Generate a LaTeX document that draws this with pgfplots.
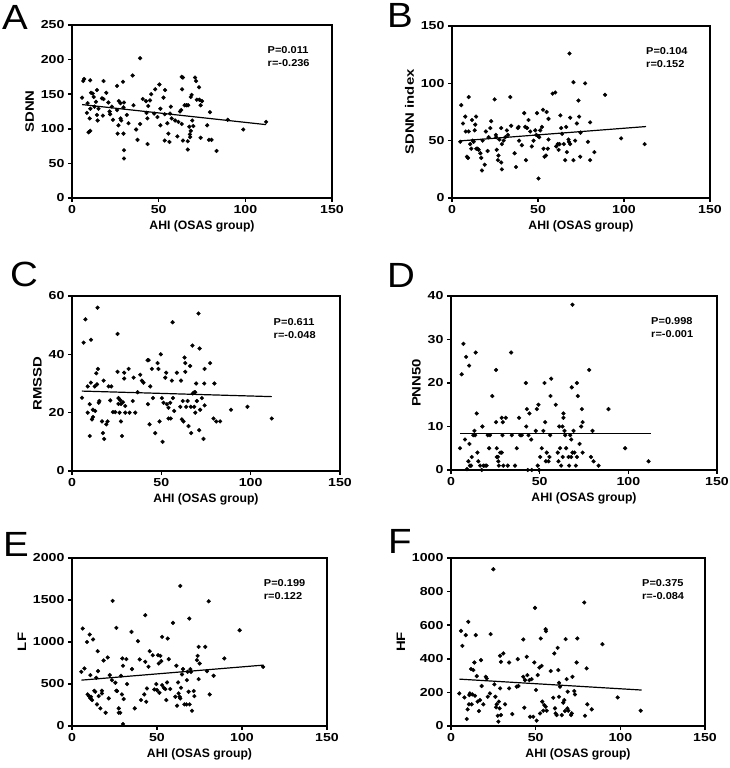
\documentclass[border=0pt]{standalone}
\usepackage{fontspec}
\setmainfont{Liberation Sans}
\newfontfamily\wide{Liberation Sans}[FakeStretch=1.1]
\newfontfamily\wider{Liberation Sans}[FakeStretch=1.22]
\usepackage{pgfplots}
\pgfplotsset{compat=1.18}
\pgfplotsset{
 panel/.style={
  scale only axis, anchor=south west,
  xmin=0, xmax=150, xtick={0,50,100,150},
  tick align=outside, tick pos=left,
  major tick length=4pt,
  axis line style={line width=1.6pt},
  tick style={line width=1.5pt, black},
  ticklabel style={font=\wider\bfseries\fontsize{11.6}{13}\selectfont},
  xlabel style={font=\bfseries\fontsize{12.2}{14}\selectfont},
  ylabel style={font=\wider\bfseries\fontsize{12.2}{14}\selectfont},
  xlabel={AHI (OSAS group)},
  /pgf/number format/assume math mode=true,
  /pgf/number format/1000 sep={},
  scaled ticks=false,
  clip=false,
 },
 dots/.style={only marks, mark=*, mark size=1.9pt, black},
 fitline/.style={no marks, line width=1.2pt, black},
}
\newcommand{\stat}[2]{\node[anchor=north west, align=left, inner sep=0pt, font=\wide\bfseries\fontsize{10}{13}\selectfont] at (rel axis cs:0.752,0.875) {#1\\#2};}
\begin{document}
\begin{tikzpicture}
\path[use as bounding box] (0pt,0pt) rectangle (729pt,768pt);
% ---------------- A
\begin{axis}[panel, at={(72pt,570pt)}, width=260pt, height=173pt,
  ymin=0, ymax=250, ytick={0,50,...,250}, ylabel={SDNN}]
\addplot[dots] table {
5.8 145
6.5 169
7 172
9 137
8.6 123
9.6 95
10.5 97
10.5 170
11 152
12 151
10.6 129
10.2 115
12.5 146
13 132
13.8 139
14.4 156
14.4 120
14.8 112
15.3 129
17.3 144
18.2 143
18.2 169
17.8 119
19.8 152
21 138
21.7 125
22 121
23 132
23.6 113
26 162
26 127
26.3 93
26.8 105
27 140
28 137
28 115
28.4 112
29.4 168
29.7 131
30 138
29.7 93
30 69
30 57
31.6 120
32.6 108
35 177
35.5 134
37 99
37.8 84
39.3 107
39.3 202
40.8 143
42.7 140
43 123
43.5 115
43.6 78
44 133
45 141
45.7 150
47.4 122
48 157
49.3 117
50.4 164
51 129
51 105
52.8 145
53.7 156
53.5 121
53.5 83
55 108
55.6 93
56.2 81
56.6 122
57 132
57.5 115
59.5 112
60.8 89
61.4 110
62.3 125
63 127
63.3 107
63.3 175
64 174
63.5 157
64 83
65 134
66 134
66.8 82
66.8 70
67 134
67.7 103
68 92
68.2 88
68.5 97
68.5 146
69 149
69.4 112
70 104
71 174
71.6 169
72 142
73.3 160
73.5 142
75 140
74.2 134
74.2 87
78 105
79.6 124
79 84
80.5 84
83.4 68
89.8 113
98.8 99
112 110
};
\addplot[fitline] coordinates {(5.8,135) (112,106)};
\stat{P=0.011}{r=-0.236}
\end{axis}
% ---------------- B
\begin{axis}[panel, at={(452pt,570pt)}, width=258pt, height=172pt,
  ymin=0, ymax=150, ytick={0,50,100,150}, ylabel={SDNN index}]
\addplot[dots] table {
5.4 81
4.8 49
6.4 65
7.7 71
8 58
8.7 36
9.3 35
9.7 88
9.7 58
10.6 47
11.2 43
11.6 68
12 50
12.6 49
13.2 59
13.5 64
14 71
14.1 43
14.9 43
15.5 42
16.5 39
17 35
17.4 24
17.8 50
19 29
19.7 58
20.7 41
21.3 53
22.3 61
22.8 67
24.8 86
25.5 55
25.7 53
26 42
26.7 33
27 37
27.5 51
28.6 61
28.6 31
29 25
29 47
30 50
31 53
31.9 59
32.5 55
33.9 88
34.4 63
36.4 39
37.2 27
38.3 61
38.7 62
39 50
40.6 46
42 74
42.6 62
43 33
43.7 61
44.5 68
45.5 58
46.4 45
47.4 50
48.4 59
49 55
49.4 74
50 54
50.3 17
50.7 53
51.3 59
52.3 62
52.9 77
53.2 43
53.8 36
54.6 37
55 75
55.7 43
56.1 69
56.1 51
58.5 91
60 92
60.6 45
61.5 47
62 42
62.5 47
63.5 61
63 72
64 56
65 47
65.8 33
66.4 62
66.8 40
67.7 51
68 49
68.7 47
68.3 126
68.7 70
70.6 33
70.6 101
71.6 50
72.6 65
73.5 85
73.9 71
74.5 36
74.7 57
77.4 100
79 49
80.3 66
80.3 33
82.8 40
89 90
98.3 52
112 47
};
\addplot[fitline] coordinates {(4.8,49.8) (112.8,62.3)};
\stat{P=0.104}{r=0.152}
\end{axis}
% ---------------- C
\begin{axis}[panel, at={(72pt,297pt)}, width=268pt, height=175pt,
  ymin=0, ymax=60, ytick={0,20,40,60}, ylabel={RMSSD}]
\addplot[dots] table {
5.6 25.1
6.5 44
7.5 52
8.8 29
8.8 20
9.9 12
9.9 22.9
10.6 45
10.6 30.3
11.2 17.7
11.7 18.5
11.7 21
12.7 29
13 20.6
13.6 33.5
14 29.7
14.3 56
14.5 35
15 23.4
15.3 24
16.8 17
17.3 13
17.7 31
18 11
19.2 16
19.9 17
20.5 29
22 29
21.4 24.2
22.9 20.2
24.2 20.2
25.5 47
25.5 34
26 25
26 23
26.6 20
27 24.3
27.4 17
27.4 23
28 12
28.5 23.6
29.2 33.7
29.2 31.7
29.8 20
29.8 22.3
31.7 35
32.2 20
34 24
34.5 32
35.4 20
36.7 27
38.2 33
39.1 31
40 30.3
42.3 38
42.9 38
42.5 22.9
43.4 16
43.8 29
44.7 35
45.3 25
46.6 13
47.9 37
48.4 35
49 17
49.7 40
50.3 25
50.7 10
51.2 23.4
52.2 32
52.7 33.7
53.1 22.9
54 21.7
54 18
55 23.4
55.3 18
55.9 31
56.3 51
56.5 25
57.2 20.6
58.7 33.7
60.6 22
61 31
61.5 17.7
62 24
62.4 17
63 38.9
63.4 37
63.4 34
63.9 22
64.7 24
65.2 15.4
66.1 36
66.5 22
66.7 13
67.4 43
67.6 26.6
68.4 22
68.4 27
69 27
69 20
69.5 30
69.9 24
70.8 54
71.2 14
71.4 42
71.7 21
72.7 25
73.6 11
74 30
74.2 22.5
74.2 35
77.3 37
79.2 18
79.7 30
80.7 17
82.9 17
89 21
98.2 22
111.8 18
};
\addplot[fitline] coordinates {(5.5,27.4) (111.8,25.5)};
\stat{P=0.611}{r=-0.048}
\end{axis}
% ---------------- D
\begin{axis}[panel, at={(451pt,298pt)}, width=266pt, height=174pt,
  ymin=0, ymax=40, ytick={0,10,20,30,40}, ylabel={PNN50}]
\addplot[dots] table {
5.1 5
6 22
7 29
7.9 7
8.5 26
9 0.2
9.8 2
10.2 24
10.4 6
10.7 1
11.3 1
11.7 3
12.6 8
13.2 9
13.6 8
13.9 27
14.5 13
14.9 4
15.4 2
16.4 1
17.3 0
17.7 10
18.3 1
19.2 1
20.1 1
20.7 8
21.5 5
22 8
23.3 17
25.4 23
25.4 11
25.8 5
25.8 3
26.4 3
26.7 2
27 1
27.7 4
28.6 4
28.6 12
29 8
29.2 11
29.5 1
30.9 12
32 1
33.9 27
34.3 8
36.1 1
37.1 5
38.4 12
39 8
39.9 8
42.2 20
42.4 10
42.8 14
43.3 0
43.7 8
44.2 13
45.2 7
45.5 0
47.8 9
48.4 14
48.9 1
49.3 15
49.7 0
50.3 3
51.2 5
52.1 9
52.7 20
53.1 11
53.5 2
54 4
55 2
55.5 3
55.9 8
56.1 17
56.5 21
59.1 15
60.2 4
60.6 2
61 10
61.5 5
62.1 1
62.9 10
63 3
63.4 13
63.4 12
64 9
64.4 8
64.9 5
66.3 3
66.6 1
67.2 8
67.8 3
67.8 7
68.1 19
68.5 38
68.5 4
69.1 9
69.6 4
70.4 1
71 20
71 3
71.5 17
72.5 6
73.4 10
73.8 14
74.2 11
74.2 4
77.9 23
78.9 3
79.8 9
80.4 2
83.2 1
88.8 14
98.2 5
111.4 2
};
\addplot[fitline] coordinates {(5,8.3) (112.8,8.3)};
\stat{P=0.998}{r=-0.001}
\end{axis}
% ---------------- E
\begin{axis}[panel, at={(72pt,42pt)}, width=255pt, height=168pt,
  ymin=0, ymax=2000, ytick={0,500,1000,1500,2000}, ylabel={LF}]
\addplot[dots] table {
5.5 645
6.3 1160
7.3 685
8.8 1000
9.2 376
10 356
10.4 1089
10.8 329
10.8 606
11.2 348
11.8 309
12.4 1030
13.1 420
13.7 408
14.3 574
14.7 257
15.1 891
15.3 653
15.7 356
16.7 210
17.6 420
17.6 388
18.6 780
19.8 158
21 816
21.6 329
22.2 606
23.5 546
23.9 1489
25.5 515
26.1 1168
26.1 420
26.5 416
27.5 210
27.5 158
28.4 158
28.8 598
29.4 376
29.6 804
30 717
30 24
30.4 321
32 796
32.4 499
35 1120
35.3 677
36.9 210
38.8 1010
39.8 792
40.6 309
42.5 376
43.1 1319
43.1 764
43.7 289
44.1 447
45 705
45.7 891
47.5 843
48.4 435
49.6 499
50 427
50.6 843
51 744
51.4 396
52 835
52.5 772
53 487
53 1061
54 455
54.9 440
55.5 309
55.9 519
56.3 1041
56.9 796
57.8 440
59.4 1228
60.8 348
61.4 717
61.8 242
62.4 519
62.7 388
63.3 348
63.7 1667
63.7 329
64.1 455
64.7 614
65.3 677
66.1 257
67.3 257
67.6 546
68 645
68.6 408
69 1279
69.2 257
69.6 677
70 645
70.6 182
71.6 416
72 356
73.5 784
73.9 835
74.5 942
74.5 558
75.1 744
78.4 942
79.4 653
80.4 1485
81 376
83.3 598
89.6 804
98.6 1140
112.4 705
};
\addplot[fitline] coordinates {(5.5,546) (112.7,725)};
\stat{P=0.199}{r=0.122}
\end{axis}
% ---------------- F
\begin{axis}[panel, at={(451pt,42pt)}, width=254pt, height=168pt,
  ymin=0, ymax=1000, ytick={0,200,...,1000}, ylabel={HF}]
\addplot[dots] table {
4.9 194
5.9 566
6.7 477
7.9 170
8.7 541
9.3 42
9.8 99
10.2 620
10.6 129
10.8 184
11.2 194
11.8 339
12.2 129
12.6 188
13.2 333
13.8 378
14.2 180
14.6 541
15.2 297
15.7 145
16.5 89
17.1 154
17.7 392
18.1 238
19.1 129
20.5 293
21.1 283
21.7 174
23 194
23.4 547
25 933
25.6 248
26.2 174
26.6 111
27 129
27.6 61
28 26
28.3 145
28.7 105
29 224
29 418
29.5 382
29.5 65
30.9 432
31.9 129
34.3 378
34.3 224
36.2 71
38.8 234
39.4 398
39.8 238
42.7 515
42.7 293
43.3 109
43.7 273
44.7 412
45.1 303
46.3 273
46.7 55
47.6 279
48.6 55
49.2 378
49.6 703
50.2 214
50.6 32
51.2 303
52.2 348
52.6 75
53 521
53.5 358
53.9 145
54.5 91
55.1 125
55.9 576
55.9 115
56.1 564
56.5 91
58.9 327
60.4 168
61 432
61.4 105
61.8 75
62.4 65
63 465
63.4 333
63.8 257
63.8 174
64.4 234
65.4 65
66.3 139
66.9 154
67.3 89
67.7 517
68.3 279
68.7 105
68.9 204
69.3 91
70.9 65
71.3 75
71.7 293
72.8 208
73.2 188
74.2 378
74.6 521
78.7 735
79.1 61
80.1 343
80.5 129
83.1 99
89.4 487
98.4 170
112 91
};
\addplot[fitline] coordinates {(4.9,279) (112.6,214)};
\stat{P=0.375}{r=-0.084}
\end{axis}
% ---------------- panel letters
\node[anchor=base west, inner sep=0pt, font=\wide\fontsize{35}{35}\selectfont] at (2pt,738pt) {A};
\node[anchor=base west, inner sep=0pt, font=\wide\fontsize{35}{35}\selectfont] at (387pt,740pt) {B};
\node[anchor=base west, inner sep=0pt, font=\wide\fontsize{35}{35}\selectfont] at (10pt,481pt) {C};
\node[anchor=base west, inner sep=0pt, font=\wide\fontsize{35}{35}\selectfont] at (387pt,480pt) {D};
\node[anchor=base west, inner sep=0pt, font=\wide\fontsize{35}{35}\selectfont] at (3pt,211pt) {E};
\node[anchor=base west, inner sep=0pt, font=\wide\fontsize{35}{35}\selectfont] at (388pt,214pt) {F};
\end{tikzpicture}
\end{document}
